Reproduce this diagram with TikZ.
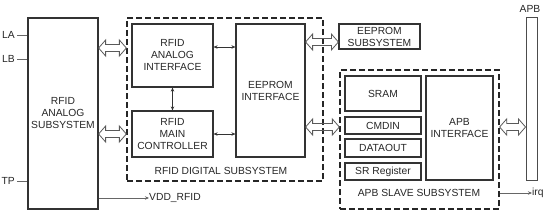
\documentclass[tikz,border=0pt]{standalone}
\usepackage{fontspec}
\setmainfont{Liberation Sans}
\usetikzlibrary{calc,arrows.meta}
\newcommand\fatarr[2]{\draw[fat] let \p1=#1, \p2=#2 in (\x1,\y1) -- (\x1+7pt,\y1+8pt) -- (\x1+7pt,\y1+3.5pt) -- (\x2-7pt,\y1+3.5pt) -- (\x2-7pt,\y1+8pt) -- (\x2,\y1) -- (\x2-7pt,\y1-8pt) -- (\x2-7pt,\y1-3.5pt) -- (\x1+7pt,\y1-3.5pt) -- (\x1+7pt,\y1-8pt) -- cycle;}
\begin{document}
\begin{tikzpicture}[x=1pt,y=-1pt,
  box/.style={draw=black!80, line width=1.2pt, align=center, inner sep=0pt, font=\fontsize{10.3}{12}\selectfont, text=black!85},
  dbox/.style={draw=black!85, line width=1.3pt, dash pattern=on 6pt off 3pt, inner sep=0pt},
  lbl/.style={font=\fontsize{10.3}{12}\selectfont, text=black!85, inner sep=0pt},
  sarr/.style={{Stealth[length=4pt,width=3.5pt]}-{Stealth[length=4pt,width=3.5pt]}, draw=black!80, line width=0.8pt},
  oarr/.style={-{Stealth[length=4pt,width=3.5pt]}, draw=black!60, line width=0.8pt},
  pin/.style={draw=black!60, line width=0.8pt},
  fat/.style={draw=black!65, line width=0.8pt, line join=miter}
]
\useasboundingbox (0,0) rectangle (550,215);
% analog subsystem
\node[box, minimum width=70pt, minimum height=191pt] (ana) at (63,113.5) {RFID\\ANALOG\\SUBSYSTEM};
% digital subsystem
\node[dbox, minimum width=196pt, minimum height=163pt] (dig) at (225,99.5) {};
\node[box, minimum width=81pt, minimum height=63pt] (rai) at (172.5,55.5) {RFID\\ANALOG\\INTERFACE};
\node[box, minimum width=81pt, minimum height=46pt] (rmc) at (172.5,134) {RFID\\MAIN\\CONTROLLER};
\node[box, minimum width=69pt, minimum height=133pt] (eei) at (270.5,90.5) {EEPROM\\INTERFACE};
\node[lbl] (diglbl) at (221,171) {RFID DIGITAL SUBSYSTEM};
% eeprom subsystem
\node[box, minimum width=81pt, minimum height=25pt] (ees) at (379.5,36.5) {EEPROM\\SUBSYSTEM};
% apb slave subsystem
\node[dbox, minimum width=159pt, minimum height=139pt] (apbs) at (419.5,139.5) {};
\node[box, minimum width=76pt, minimum height=35pt] (sram) at (383,93.5) {SRAM};
\node[box, minimum width=76pt, minimum height=17pt] (cmdin) at (383,125.5) {CMDIN};
\node[box, minimum width=76pt, minimum height=18pt] (dout) at (383,148) {DATAOUT};
\node[box, minimum width=76pt, minimum height=17pt] (srreg) at (383,171.5) {SR Register};
\node[box, minimum width=67pt, minimum height=104pt] (apbi) at (459.5,128) {APB\\INTERFACE};
\node[lbl] (apblbl) at (419,193) {APB SLAVE SUBSYSTEM};
% apb bus
\node[box, line width=0.9pt, draw=black!70, minimum width=11pt, minimum height=163pt] (bus) at (531.5,98.5) {};
\node[lbl] (buslbl) at (530,9) {APB};
% pins
\node[lbl, anchor=east] (la) at (15,35) {LA};
\node[lbl, anchor=east] (lb) at (15,59) {LB};
\node[lbl, anchor=east] (tp) at (15,181) {TP};
\draw[pin] (la.east) ++(2pt,0) -- (ana.west |- la.east);
\draw[pin] (lb.east) ++(2pt,0) -- (ana.west |- lb.east);
\draw[pin] (tp.east) ++(2pt,0) -- (ana.west |- tp.east);
% VDD_RFID
\node[lbl, anchor=west] (vdd) at (149,198) {VDD\_RFID};
\draw[oarr] (ana.east |- 0,198) -- (vdd.west);
% irq
\node[lbl, anchor=west] (irq) at (532,193) {irq};
\draw[oarr] (apbs.east |- irq.west) -- (irq.west);
% small arrows
\draw[sarr] (rai.east |- 0,47) -- (eei.west |- 0,47);
\draw[sarr] (rmc.east |- 0,134) -- (eei.west |- 0,134);
\draw[sarr] (rai.south) -- (rmc.north);
% fat arrows
\fatarr{(ana.east |- 0,48)}{(dig.west |- 0,48)}
\fatarr{(ana.east |- 0,134)}{(dig.west |- 0,134)}
\fatarr{(eei.east |- 0,42)}{(ees.west |- 0,42)}
\fatarr{(eei.east |- 0,127)}{(apbs.west |- 0,127)}
\fatarr{(apbs.east |- 0,127)}{(bus.west |- 0,127)}
\end{tikzpicture}
\end{document}
